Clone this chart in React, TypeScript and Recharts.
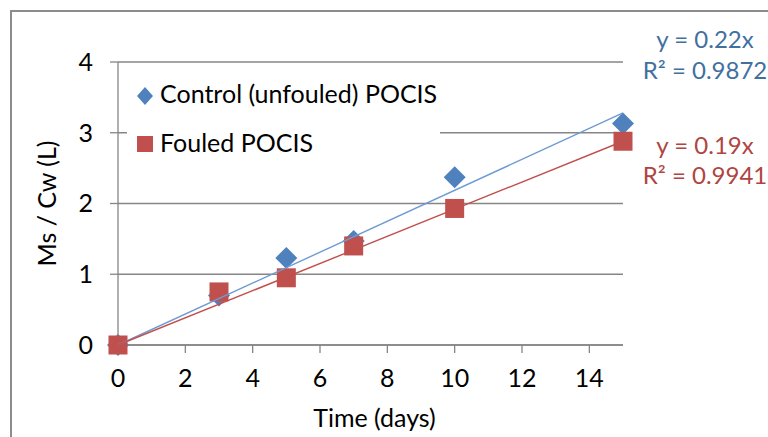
import React from 'react';
import { ComposedChart, Scatter, XAxis, YAxis, CartesianGrid, Legend } from 'recharts';

// ---- data ----
const days = [0, 3, 5, 7, 10, 15];
const controlValues = [0, 0.7, 1.23, 1.47, 2.37, 3.13];
const fouledValues = [0, 0.75, 0.95, 1.4, 1.93, 2.88];
const trendDays = [0, 15];
const controlTrendValues = [0, 3.28];
const fouledTrendValues = [0, 2.88];
const xTicks = [0, 2, 4, 6, 8, 10, 12, 14];
const yTicks = [0, 1, 2, 3, 4];
const seriesNames = ['Control (unfouled) POCIS', 'Fouled POCIS'];
const controlEquation = ['y = 0.22x', 'R² = 0.9872'];
const fouledEquation = ['y = 0.19x', 'R² = 0.9941'];
const xTitle = 'Time (days)';
const yTitle = 'Ms / Cw (L)';

const toPoints = (xs: number[], ys: number[]) => xs.map((x, i) => ({ x, y: ys[i] }));
const controlData = toPoints(days, controlValues);
const fouledData = toPoints(days, fouledValues);
const controlTrend = toPoints(trendDays, controlTrendValues);
const fouledTrend = toPoints(trendDays, fouledTrendValues);

const BLUE = '#4F81BD';
const RED = '#C0504D';
const BLUE_LINE = '#6E9BD3';
const RED_LINE = '#C0504D';
const BLUE_TEXT = '#41709F';
const RED_TEXT = '#AE4541';
const AXIS = '#868686';
const FONT = 'Lato, "Open Sans", sans-serif';

const Diamond = (props: any) => {
  const { cx, cy } = props;
  if (cx == null || cy == null) return <g />;
  const r = 11;
  return <polygon points={`${cx},${cy - r} ${cx + r},${cy} ${cx},${cy + r} ${cx - r},${cy}`} fill={BLUE} />;
};

const Square = (props: any) => {
  const { cx, cy } = props;
  if (cx == null || cy == null) return <g />;
  const s = 19;
  return <rect x={cx - s / 2} y={cy - s / 2} width={s} height={s} fill={RED} />;
};

const NoShape = () => <g />;

const LegendBox = () => (
  <div style={{ background: '#fff', width: 313, height: 95 }}>
    <svg width={313} height={95} style={{ display: 'block' }}>
      <polygon points="18,17 26,26 18,35 10,26" fill={BLUE} />
      <text x={33} y={33} fontSize={25} fontFamily={FONT} fill="#000">{seriesNames[0]}</text>
      <rect x={10} y={66} width={16} height={16} fill={RED} />
      <text x={33} y={82} fontSize={25} fontFamily={FONT} fill="#000">{seriesNames[1]}</text>
    </svg>
  </div>
);

export default function App() {
  const tickStyle = { fill: '#000', fontSize: 25, fontFamily: FONT };
  return (
    <div style={{ position: 'relative', width: 768, height: 437, overflow: 'hidden', background: '#fff', fontFamily: FONT }}>
      <style>{`html,body{margin:0;padding:0;overflow:hidden;}`}</style>
      <div
        style={{
          position: 'absolute', left: 10, top: 10, width: 900, height: 600,
          border: '2px solid #8C8C8C', boxSizing: 'border-box', pointerEvents: 'none',
        }}
      />
      <div style={{ position: 'absolute', left: 0, top: 0 }}>
        <ComposedChart width={768} height={437} margin={{ top: 62, right: 145, bottom: 0, left: 0 }}>
          <CartesianGrid horizontal vertical={false} stroke={AXIS} strokeWidth={1.3} />
          <XAxis
            type="number"
            dataKey="x"
            domain={[0, 15]}
            ticks={xTicks}
            height={92}
            tickSize={8}
            tickMargin={16}
            tick={tickStyle}
            axisLine={{ stroke: AXIS, strokeWidth: 1.3 }}
            tickLine={{ stroke: AXIS, strokeWidth: 1.3 }}
            label={{ value: xTitle, position: 'insideBottom', offset: 10, dx: 4, style: { fill: '#000', fontSize: 25, fontFamily: FONT } }}
          />
          <YAxis
            type="number"
            dataKey="y"
            domain={[0, 4]}
            ticks={yTicks}
            width={118}
            tickSize={8}
            tickMargin={17}
            tick={tickStyle}
            axisLine={{ stroke: AXIS, strokeWidth: 1.3 }}
            tickLine={{ stroke: AXIS, strokeWidth: 1.3 }}
            label={{ value: yTitle, angle: -90, position: 'insideLeft', offset: 47, style: { textAnchor: 'middle', fill: '#000', fontSize: 25, fontFamily: FONT } }}
          />
          <Legend
            layout="horizontal"
            verticalAlign="middle"
            align="center"
            content={() => <LegendBox />}
            wrapperStyle={{ left: 127, top: 70, width: 313, height: 95 }}
          />
          <Scatter name={seriesNames[0]} data={controlData} dataKey="y" shape={<Diamond />} isAnimationActive={false} />
          <Scatter name={seriesNames[1]} data={fouledData} dataKey="y" shape={<Square />} isAnimationActive={false} />
          <Scatter
            data={controlTrend}
            dataKey="y"
            line={{ stroke: BLUE_LINE, strokeWidth: 1.4 }}
            shape={<NoShape />}
            legendType="none"
            isAnimationActive={false}
          />
          <Scatter
            data={fouledTrend}
            dataKey="y"
            line={{ stroke: RED_LINE, strokeWidth: 1.4 }}
            shape={<NoShape />}
            legendType="none"
            isAnimationActive={false}
          />
        </ComposedChart>
      </div>
      <svg width={768} height={437} style={{ position: 'absolute', left: 0, top: 0, pointerEvents: 'none' }}>
        <text x={705} y={48} textAnchor="middle" fontSize={24} fontFamily={FONT} fill={BLUE_TEXT}>{controlEquation[0]}</text>
        <text x={705} y={79} textAnchor="middle" fontSize={24} fontFamily={FONT} fill={BLUE_TEXT}>{controlEquation[1]}</text>
        <text x={705} y={154} textAnchor="middle" fontSize={24} fontFamily={FONT} fill={RED_TEXT}>{fouledEquation[0]}</text>
        <text x={705} y={184} textAnchor="middle" fontSize={24} fontFamily={FONT} fill={RED_TEXT}>{fouledEquation[1]}</text>
      </svg>
    </div>
  );
}
